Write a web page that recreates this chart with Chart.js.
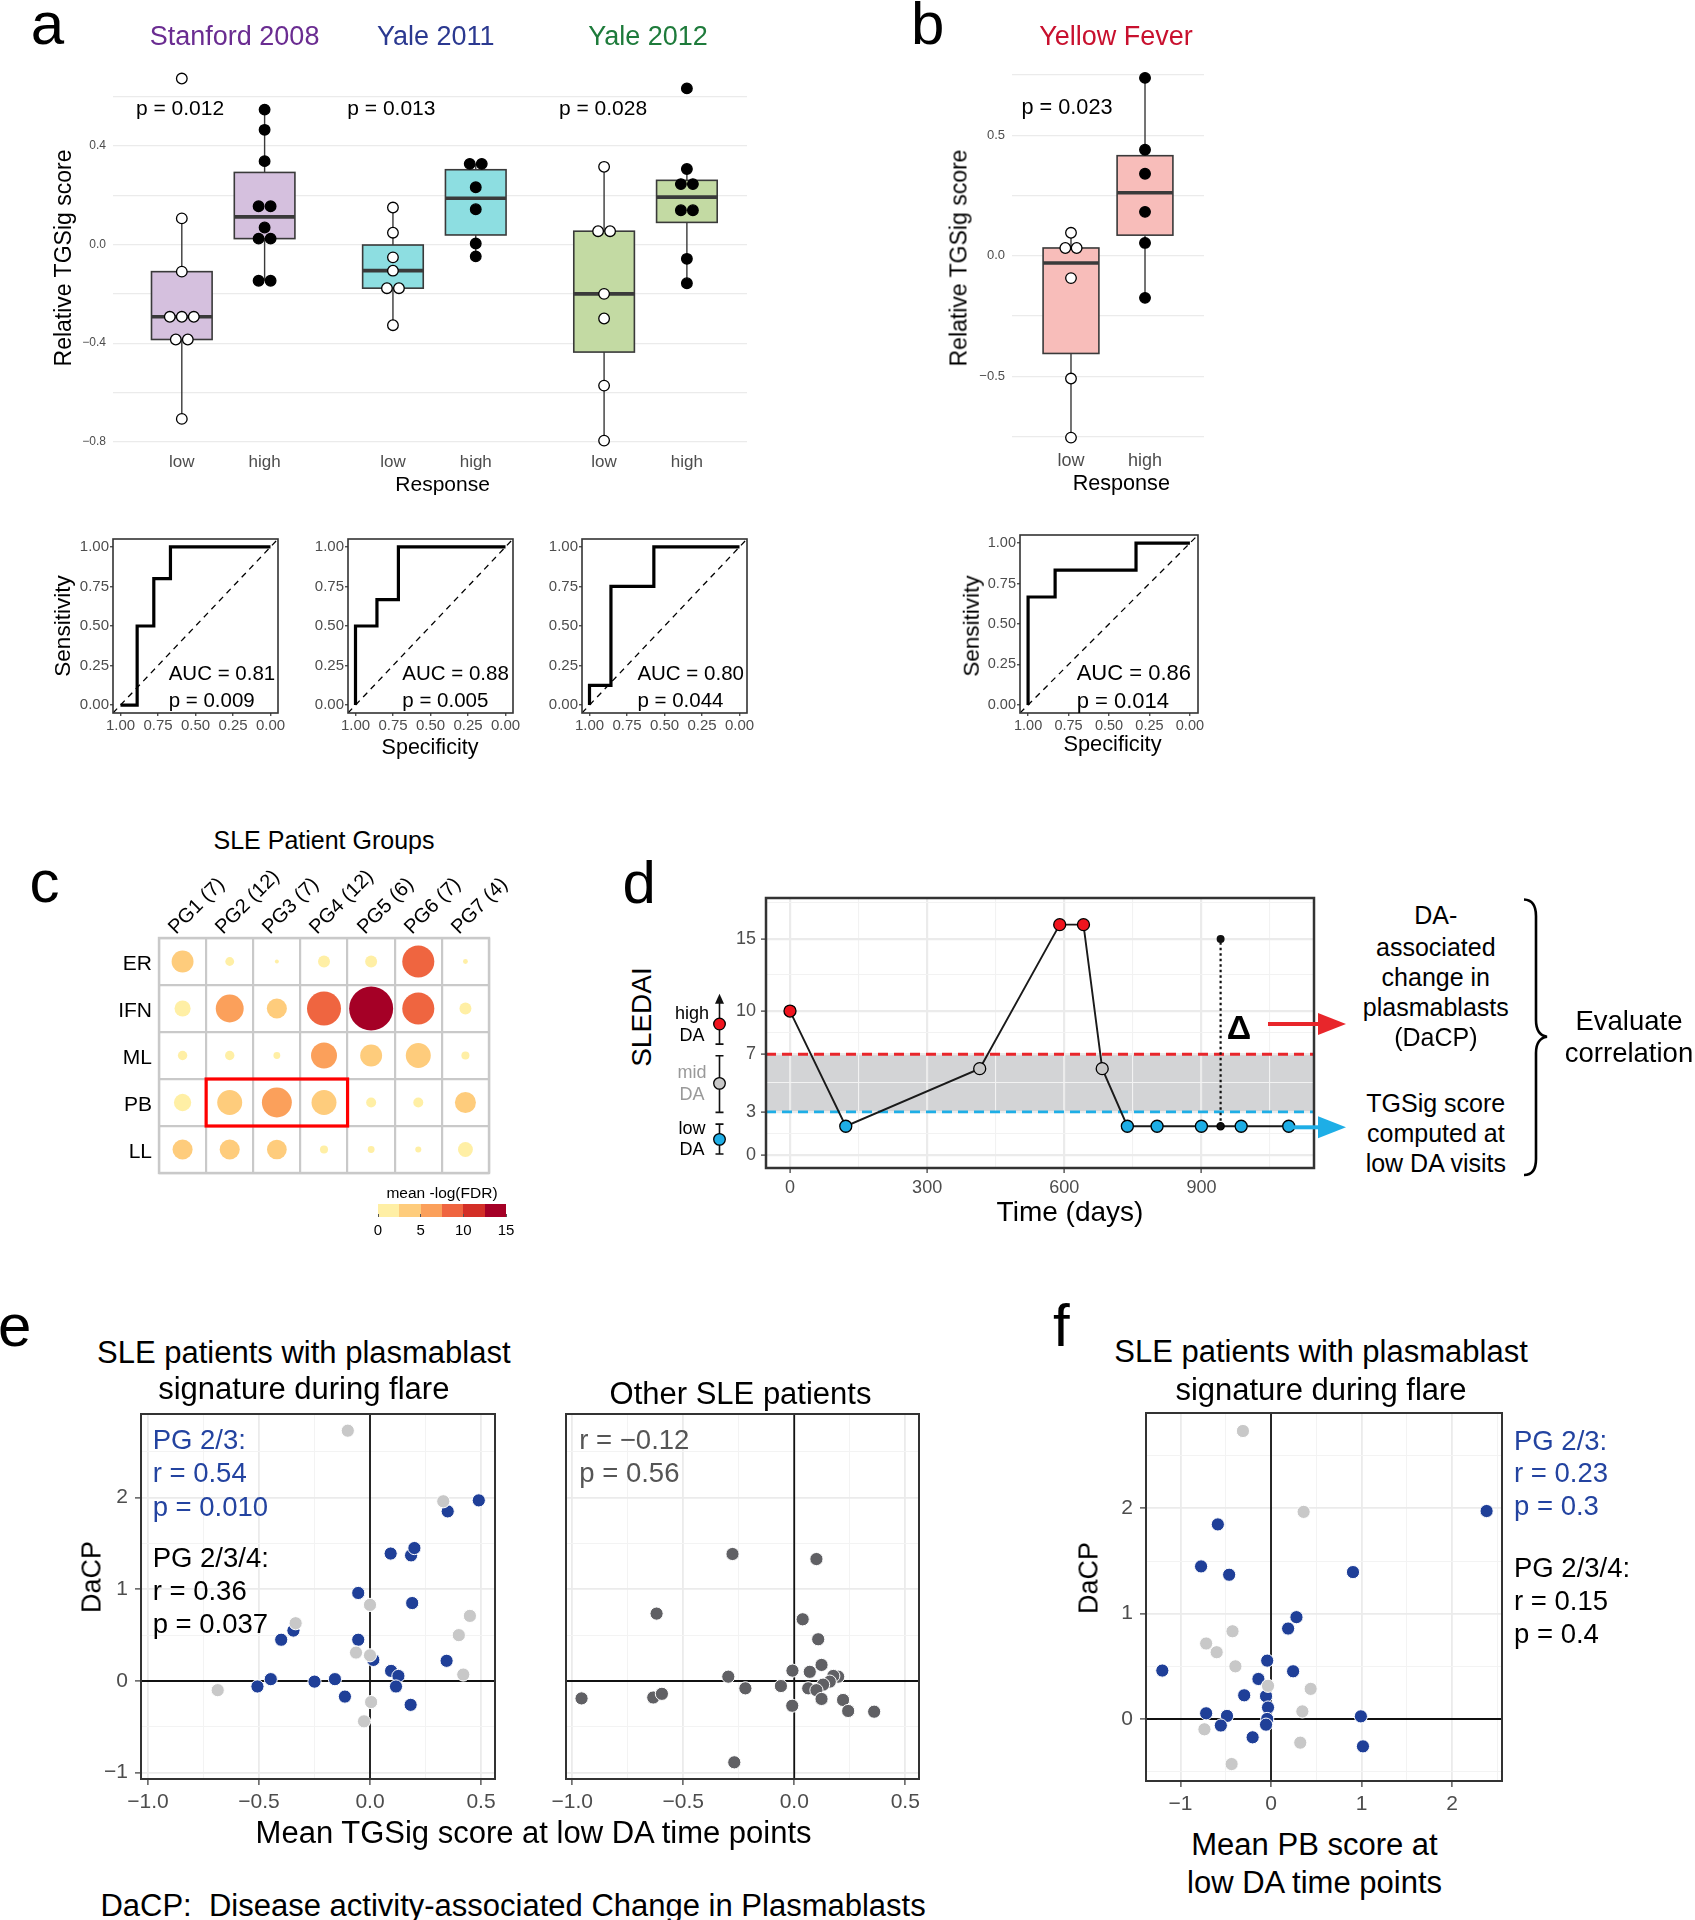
<!DOCTYPE html>
<html>
<head>
<meta charset="utf-8">
<title>TGSig figure</title>
<script src="https://cdn.jsdelivr.net/npm/chart.js@4.4.1/dist/chart.umd.min.js"></script>
<style>
  html, body { margin: 0; padding: 0; background: #fff; }
  body { position: relative; width: 1695px; height: 1920px; overflow: hidden;
         font-family: 'Liberation Sans', Arial, sans-serif; }
  canvas { position: absolute; }
  .t { position: absolute; white-space: pre; line-height: 1; }
  svg { position: absolute; left: 0; top: 0; }
</style>
</head>
<body>
<script>
// ---------- data ----------

// a: relative TGSig score by cohort and response
const responses = ['low', 'high'];
const stanfordLow  = [0.673, 0.106, -0.11, -0.293, -0.293, -0.293, -0.385, -0.385, -0.707];
const stanfordHigh = [0.547, 0.465, 0.338, 0.155, 0.155, 0.069, 0.024, 0.024, -0.147, -0.147];
const yale2011Low  = [0.15, 0.048, -0.052, -0.106, -0.177, -0.177, -0.327];
const yale2011High = [0.327, 0.327, 0.232, 0.143, 0.004, -0.048];
const yale2012Low  = [0.315, 0.054, 0.054, -0.2, -0.3, -0.572, -0.795];
const yale2012High = [0.633, 0.306, 0.245, 0.245, 0.139, 0.139, -0.058, -0.157];
const scoreTicksA = [-0.8, -0.4, 0, 0.4];
const scoreMinorA = [-0.6, -0.2, 0.2, 0.6];

// b: yellow fever
const yfLow  = [0.095, 0.032, 0.032, -0.093, -0.51, -0.755];
const yfHigh = [0.738, 0.44, 0.34, 0.182, 0.053, -0.175];
const scoreTicksB = [-0.5, 0, 0.5];
const scoreMinorB = [-0.75, -0.25, 0.25, 0.75];

// ROC curves: specificity / sensitivity vertices
const rocStanfordSpec = [1, 0.889, 0.889, 0.778, 0.778, 0.667, 0.667, 0];
const rocStanfordSens = [0, 0, 0.5, 0.5, 0.8, 0.8, 1, 1];
const rocYale11Spec = [1, 1, 0.857, 0.857, 0.714, 0.714, 0];
const rocYale11Sens = [0, 0.5, 0.5, 0.667, 0.667, 1, 1];
const rocYale12Spec = [1, 1, 0.857, 0.857, 0.571, 0.571, 0];
const rocYale12Sens = [0, 0.125, 0.125, 0.75, 0.75, 1, 1];
const rocYFSpec = [1, 1, 0.833, 0.833, 0.333, 0.333, 0];
const rocYFSens = [0, 0.667, 0.667, 0.833, 0.833, 1, 1];
const rocTicks = [0, 0.25, 0.5, 0.75, 1];

// c: mean -log(FDR) per module and patient group
const patientGroups = ['PG1 (7)', 'PG2 (12)', 'PG3 (7)', 'PG4 (12)', 'PG5 (6)', 'PG6 (7)', 'PG7 (4)'];
const modules = ['ER', 'IFN', 'ML', 'PB', 'LL'];
const fdrER  = [3.7, 0.6, 0.12, 1.1, 1.1, 7.9, 0.18];
const fdrIFN = [2.0, 6.0, 3.1, 8.9, 14.9, 7.9, 1.1];
const fdrML  = [0.68, 0.68, 0.36, 5.2, 3.7, 4.8, 0.5];
const fdrPB  = [2.3, 4.8, 6.9, 4.8, 0.77, 0.77, 3.4];
const fdrLL  = [3.1, 3.1, 3.0, 0.5, 0.36, 0.28, 1.7];
const fdrLegendTicks = [0, 5, 10, 15];
const fdrColors = ['#FFEFA5', '#FECC7C', '#FBA05B', '#EF6540', '#D32F27', '#A50026'];

// d: SLEDAI over time for one patient
const visitDays   = [0, 122, 415, 590, 642, 683, 738, 803, 900, 942, 987, 1091];
const visitSledai = [10, 2, 6, 16, 16, 6, 2, 2, 2, 2, 2, 2];
const visitLevel  = ['high', 'low', 'mid', 'high', 'high', 'mid', 'low', 'low', 'low', 'ref', 'low', 'low'];
const flareDay = 942, flareSledai = 15;
const daCuts = [3, 7];
const sledaiTicks = [0, 3, 7, 10, 15];
const dayTicks = [0, 300, 600, 900];

// e: DaCP vs mean TGSig score
const eBlueX = [0.49, 0.35, 0.093, 0.185, 0.2, -0.053, 0.19, -0.345, -0.4, -0.053, 0.015, 0.345, 0.095, 0.128, -0.447, -0.25, -0.158, -0.507, 0.117, -0.113, 0.183];
const eBlueY = [1.97, 1.85, 1.39, 1.37, 1.45, 0.96, 0.85, 0.55, 0.45, 0.45, 0.23, 0.22, 0.11, 0.055, 0.02, -0.007, 0.02, -0.06, -0.06, -0.17, -0.26];
const eGrayX = [-0.1, 0.33, 0.0, 0.45, -0.335, 0.4, -0.063, 0.0, 0.42, -0.686, 0.005, -0.027];
const eGrayY = [2.73, 1.96, 0.83, 0.71, 0.63, 0.5, 0.31, 0.28, 0.07, -0.1, -0.23, -0.44];
const otherX = [-0.278, 0.1, -0.62, 0.038, 0.108, 0.123, -0.008, 0.07, -0.297, 0.198, 0.176, 0.16, 0.13, -0.06, -0.22, 0.063, 0.1, -0.958, -0.635, -0.596, 0.123, 0.22, -0.009, 0.243, 0.36, -0.27];
const otherY = [1.385, 1.33, 0.735, 0.673, 0.455, 0.175, 0.113, 0.1, 0.047, 0.047, 0.055, -0.007, -0.04, -0.055, -0.08, -0.08, -0.1, -0.19, -0.18, -0.14, -0.196, -0.207, -0.27, -0.327, -0.335, -0.887];

// f: DaCP vs mean PB score
const fBlueX = [2.38, -0.587, -0.772, -0.462, 0.905, 0.281, 0.189, -0.042, -1.2, 0.244, -0.139, -0.296, -0.055, -0.033, -0.716, -0.486, 0.992, -0.042, -0.554, -0.055, -0.203, 1.015];
const fBlueY = [1.975, 1.848, 1.449, 1.37, 1.395, 0.967, 0.859, 0.554, 0.46, 0.453, 0.38, 0.225, 0.217, 0.109, 0.054, 0.029, 0.025, 0.0, -0.062, -0.054, -0.174, -0.26];
const fGrayX = [-0.31, 0.36, -0.425, -0.716, -0.6, -0.393, -0.033, 0.438, 0.346, -0.735, 0.323, -0.435];
const fGrayY = [2.735, 1.967, 0.833, 0.717, 0.634, 0.5, 0.315, 0.286, 0.072, -0.098, -0.225, -0.428];

// ---------- helpers ----------
Chart.defaults.font.family = "'Liberation Sans', Arial, sans-serif";
Chart.defaults.color = '#4D4D4D';
Chart.defaults.plugins.legend.display = false;
Chart.defaults.plugins.tooltip.enabled = false;

const MINUS = '\u2212';
const fmt1 = v => (v < 0 ? MINUS : '') + Math.abs(v).toFixed(1);
const fmt0 = v => (v < 0 ? MINUS : '') + Math.abs(v);
const pts = (xs, ys) => xs.map((x, i) => ({ x, y: ys[i] }));

function label(str, x, y, o = {}) {
  const d = document.createElement('div');
  d.className = 't';
  d.textContent = str;
  d.style.fontSize = (o.size || 20) + 'px';
  d.style.color = o.color || '#000';
  if (o.bold) d.style.fontWeight = 'bold';
  d.style.left = x + 'px';
  d.style.top = y + 'px';
  const ax = o.anchor === 'left' ? '0' : o.anchor === 'right' ? '-100%' : '-50%';
  d.style.transform = 'translate(' + ax + ',-50%)' + (o.rot ? ' rotate(' + o.rot + 'deg)' : '');
  document.body.appendChild(d);
  return d;
}

// plot area `area` = [x0, y0, x1, y1] in page pixels, margins m = [left, top, right, bottom]
function makeChart(area, m, config) {
  const c = document.createElement('canvas');
  const w = area[2] - area[0] + m[0] + m[2];
  const h = area[3] - area[1] + m[1] + m[3];
  c.width = w; c.height = h;
  c.style.left = (area[0] - m[0]) + 'px';
  c.style.top = (area[1] - m[1]) + 'px';
  c.style.width = w + 'px'; c.style.height = h + 'px';
  document.body.appendChild(c);
  config.options = Object.assign({
    responsive: false, animation: false, events: [],
    layout: { padding: { left: 0, top: m[1], right: m[2], bottom: 0 } }
  }, config.options);
  config.options.scales.x.afterFit = s => { s.height = m[3]; };
  config.options.scales.y.afterFit = s => { s.width = m[0]; };
  return new Chart(c, config);
}

function axis(o) {
  const major = o.major || [], minor = o.minor || [];
  const isMajor = c => c.tick && major.includes(c.tick.value);
  const none = 'rgba(0,0,0,0)';
  return {
    type: 'linear', min: o.min, max: o.max, reverse: !!o.reverse,
    afterBuildTicks: s => { s.ticks = major.concat(minor).map(v => ({ value: v })); },
    ticks: {
      display: o.labels !== false, autoSkip: false, maxRotation: 0, minRotation: 0,
      padding: o.pad ?? 4, color: '#4D4D4D', font: { size: o.font || 14 },
      callback: v => major.includes(v) ? (o.fmt ? o.fmt(v) : String(v)) : ''
    },
    grid: {
      display: true,
      drawOnChartArea: !!(o.grid || o.minorGrid),
      color: c => isMajor(c) ? (o.grid || none) : (o.minorGrid || none),
      lineWidth: c => isMajor(c) ? (o.gw || 1.5) : (o.mgw || o.gw || 1.5),
      drawTicks: !!o.tick, tickLength: o.tick || 0,
      tickColor: c => isMajor(c) ? '#333' : none,
      tickWidth: 1.2
    },
    border: { display: false }
  };
}

const framePlugin = {
  id: 'frame',
  afterDatasetsDraw(chart, args, o) {
    const { ctx, chartArea: a } = chart;
    ctx.save();
    ctx.strokeStyle = o.color; ctx.lineWidth = o.width;
    ctx.strokeRect(a.left, a.top, a.right - a.left, a.bottom - a.top);
    ctx.restore();
  }
};

function quantile(s, p) {
  const h = (s.length - 1) * p, lo = Math.floor(h);
  const next = lo + 1 < s.length ? s[lo + 1] : s[lo];
  return s[lo] + (h - lo) * (next - s[lo]);
}
function boxStats(vals) {
  const s = [...vals].sort((a, b) => a - b);
  const q1 = quantile(s, 0.25), med = quantile(s, 0.5), q3 = quantile(s, 0.75), iqr = q3 - q1;
  const lo = s.find(v => v >= q1 - 1.5 * iqr);
  const hi = [...s].reverse().find(v => v <= q3 + 1.5 * iqr);
  return { q1, med, q3, lo, hi };
}

const boxPlugin = {
  id: 'boxes',
  beforeDatasetsDraw(chart, args, o) {
    const { ctx, scales: { x, y } } = chart;
    o.items.forEach(b => {
      const s = boxStats(b.values);
      const xc = x.getPixelForValue(b.pos);
      const xl = x.getPixelForValue(b.pos - o.half), xr = x.getPixelForValue(b.pos + o.half);
      const yq3 = y.getPixelForValue(s.q3), yq1 = y.getPixelForValue(s.q1);
      ctx.save();
      ctx.strokeStyle = '#3a3a3a'; ctx.lineWidth = 1.4;
      ctx.beginPath();
      ctx.moveTo(xc, y.getPixelForValue(s.lo)); ctx.lineTo(xc, yq1);
      ctx.moveTo(xc, yq3); ctx.lineTo(xc, y.getPixelForValue(s.hi));
      ctx.stroke();
      ctx.fillStyle = b.fill;
      ctx.fillRect(xl, yq3, xr - xl, yq1 - yq3);
      ctx.lineWidth = 1.6;
      ctx.strokeRect(xl, yq3, xr - xl, yq1 - yq3);
      ctx.lineWidth = 3.6;
      ctx.beginPath();
      const ym = y.getPixelForValue(s.med);
      ctx.moveTo(xl, ym); ctx.lineTo(xr, ym);
      ctx.stroke();
      ctx.restore();
    });
  }
};

// spread tied values side by side, like a centred dot plot
function dodge(values, pos, step) {
  const groups = {};
  values.forEach(v => { const k = v.toFixed(3); (groups[k] = groups[k] || []).push(v); });
  const out = [];
  Object.values(groups).forEach(g => g.forEach((v, i) => out.push({ x: pos + (i - (g.length - 1) / 2) * step, y: v })));
  return out;
}

function dotSet(data, high) {
  return {
    data, pointRadius: 5.3, pointBorderWidth: 1.3, pointBorderColor: '#000',
    pointBackgroundColor: high ? '#000' : '#fff', clip: false
  };
}

// ---------- panel a ----------
const groupOffset = [0, 2.55, 5.1];
const cohortSeries = [[stanfordLow, stanfordHigh], [yale2011Low, yale2011High], [yale2012Low, yale2012High]];
const cohortFills = ['#D5C0DE', '#8DDEE1', '#C3DAA3'];
const catPos = [], catLab = [], boxesA = [], dotsA = [];
cohortSeries.forEach((pair, g) => pair.forEach((vals, r) => {
  const pos = groupOffset[g] + r;
  catPos.push(pos); catLab.push(responses[r]);
  boxesA.push({ pos, values: vals, fill: cohortFills[g] });
  dotsA.push(dotSet(dodge(vals, pos, 0.145), r === 1));
}));

makeChart([113, 62, 747, 449], [50, 30, 20, 36], {
  type: 'scatter',
  data: { datasets: dotsA },
  options: {
    scales: {
      x: axis({ min: -0.831, max: 6.826, major: catPos, fmt: v => catLab[catPos.indexOf(v)], font: 17, pad: 3 }),
      y: axis({ min: -0.829, max: 0.74, major: scoreTicksA, minor: scoreMinorA, grid: '#EBEBEB', minorGrid: '#EBEBEB', gw: 1.3, font: 12, pad: 7, fmt: fmt1 })
    },
    plugins: { boxes: { items: boxesA, half: 0.366 } }
  },
  plugins: [boxPlugin]
});

// ---------- panel b ----------
makeChart([1012, 68, 1204, 447], [50, 30, 20, 36], {
  type: 'scatter',
  data: { datasets: [dotSet(dodge(yfLow, 0, 0.153), false), dotSet(dodge(yfHigh, 1, 0.153), true)] },
  options: {
    scales: {
      x: axis({ min: -0.797, max: 1.797, major: [0, 1], fmt: v => responses[v], font: 18, pad: 3 }),
      y: axis({ min: -0.794, max: 0.779, major: scoreTicksB, minor: scoreMinorB, grid: '#EBEBEB', minorGrid: '#EBEBEB', gw: 1.3, font: 13, pad: 7, fmt: fmt1 })
    },
    plugins: { boxes: { items: [{ pos: 0, values: yfLow, fill: '#F8BDBA' }, { pos: 1, values: yfHigh, fill: '#F8BDBA' }], half: 0.377 } }
  },
  plugins: [boxPlugin]
});

// ---------- ROC curves ----------
function rocChart(area, spec, sens, font) {
  makeChart(area, [46, 20, 24, 32], {
    type: 'scatter',
    data: {
      datasets: [
        { data: pts(spec, sens), showLine: true, borderColor: '#000', borderWidth: 3.2, pointRadius: 0, borderJoinStyle: 'miter', clip: false },
        { data: [{ x: 1.05, y: -0.05 }, { x: -0.05, y: 1.05 }], showLine: true, borderColor: '#000', borderWidth: 1.3, borderDash: [6, 5], pointRadius: 0 }
      ]
    },
    options: {
      scales: {
        x: axis({ min: -0.05, max: 1.05, reverse: true, major: rocTicks, fmt: v => v.toFixed(2), font, tick: 3, pad: 1 }),
        y: axis({ min: -0.05, max: 1.05, major: rocTicks, fmt: v => v.toFixed(2), font, tick: 3, pad: 1 })
      },
      plugins: { frame: { color: '#333', width: 1.6 } }
    },
    plugins: [framePlugin]
  });
}
rocChart([113, 539, 278, 713], rocStanfordSpec, rocStanfordSens, 15);
rocChart([348, 539, 513, 713], rocYale11Spec, rocYale11Sens, 15);
rocChart([582, 539, 747, 713], rocYale12Spec, rocYale12Sens, 15);
rocChart([1020, 535, 1198, 713], rocYFSpec, rocYFSens, 14.5);

// ---------- panel c ----------
const fdrRows = [fdrER, fdrIFN, fdrML, fdrPB, fdrLL];
const bubbles = [], bubbleColors = [];
fdrRows.forEach((row, r) => row.forEach((v, c) => {
  bubbles.push({ x: c + 0.5, y: r + 0.5, r: 5.7 * Math.sqrt(v) });
  bubbleColors.push(fdrColors[Math.min(fdrColors.length - 1, Math.floor(v / 2.5))]);
}));

const cellBoxPlugin = {
  id: 'cellBox',
  afterDatasetsDraw(chart, args, o) {
    const { ctx, scales: { x, y } } = chart;
    const x0 = x.getPixelForValue(o.x0), x1 = x.getPixelForValue(o.x1);
    const y0 = y.getPixelForValue(o.y0), y1 = y.getPixelForValue(o.y1);
    ctx.save(); ctx.strokeStyle = '#FF0000'; ctx.lineWidth = 3.2;
    ctx.strokeRect(x0, y0, x1 - x0, y1 - y0);
    ctx.restore();
  }
};

// margins wider than the largest bubble so Chart.js does not shrink the grid
makeChart([159, 938, 489, 1173], [26, 26, 26, 26], {
  type: 'bubble',
  data: { datasets: [{ data: bubbles, backgroundColor: bubbleColors, borderWidth: 0, clip: false }] },
  options: {
    scales: {
      x: axis({ min: 0, max: 7, minor: [0, 1, 2, 3, 4, 5, 6, 7], minorGrid: '#C9C9C9', gw: 2.2, labels: false }),
      y: axis({ min: 0, max: 5, reverse: true, minor: [0, 1, 2, 3, 4, 5], minorGrid: '#C9C9C9', gw: 2.2, labels: false })
    },
    plugins: {
      frame: { color: '#C9C9C9', width: 2.4 },
      cellBox: { x0: 1, x1: 4, y0: modules.indexOf('PB'), y1: modules.indexOf('PB') + 1 }
    }
  },
  plugins: [framePlugin, cellBoxPlugin]
});

// ---------- panel d ----------
const levelColor = { high: '#F0141E', mid: '#C8C8C8', low: '#1EAEE6', ref: '#111' };
const dMin = -52.5, dMax = 1146.3;

const bandPlugin = {
  id: 'band',
  beforeDraw(chart, args, o) {
    const { ctx, chartArea: a, scales: { y } } = chart;
    const top = y.getPixelForValue(o.to), bot = y.getPixelForValue(o.from);
    ctx.save(); ctx.fillStyle = o.color;
    ctx.fillRect(a.left, top, a.right - a.left, bot - top);
    ctx.restore();
  }
};

const daKeyPlugin = {
  id: 'daKey',
  afterDraw(chart, args, o) {
    const { ctx, chartArea: a, scales: { y } } = chart;
    const x = a.left - o.offset;
    o.items.forEach(k => {
      const yt = y.getPixelForValue(k.hi), yb = y.getPixelForValue(k.lo);
      ctx.save();
      ctx.strokeStyle = '#111'; ctx.lineWidth = 1.6;
      ctx.beginPath();
      ctx.moveTo(x, k.arrow ? yt + 6 : yt); ctx.lineTo(x, yb);
      ctx.moveTo(x - 4, yb); ctx.lineTo(x + 4, yb);
      if (!k.arrow) { ctx.moveTo(x - 4, yt); ctx.lineTo(x + 4, yt); }
      ctx.stroke();
      if (k.arrow) {
        ctx.fillStyle = '#111';
        ctx.beginPath(); ctx.moveTo(x, yt); ctx.lineTo(x - 4.5, yt + 10); ctx.lineTo(x + 4.5, yt + 10); ctx.closePath(); ctx.fill();
      }
      ctx.fillStyle = k.color; ctx.lineWidth = 1.3; ctx.strokeStyle = '#000';
      ctx.beginPath(); ctx.arc(x, y.getPixelForValue(k.mid), 5.8, 0, Math.PI * 2); ctx.fill(); ctx.stroke();
      ctx.restore();
    });
  }
};

makeChart([766, 898, 1314, 1168], [66, 24, 20, 40], {
  type: 'scatter',
  data: {
    datasets: [
      { data: pts(visitDays, visitSledai), showLine: true, borderColor: '#1a1a1a', borderWidth: 1.9,
        pointBackgroundColor: visitLevel.map(l => levelColor[l]), pointBorderColor: '#000', pointBorderWidth: 1.3,
        pointRadius: visitLevel.map(l => l === 'ref' ? 3.6 : 6), clip: false },
      { data: [{ x: flareDay, y: visitSledai[visitDays.indexOf(flareDay)] }, { x: flareDay, y: flareSledai }], showLine: true,
        borderColor: '#111', borderWidth: 2.2, borderDash: [2.5, 3], pointRadius: [0, 4], pointBackgroundColor: '#111', pointBorderWidth: 0, clip: false },
      { data: [{ x: dMin, y: daCuts[1] }, { x: dMax, y: daCuts[1] }], showLine: true, borderColor: '#E8262B', borderWidth: 2.8, borderDash: [10, 6], pointRadius: 0 },
      { data: [{ x: dMin, y: daCuts[0] }, { x: dMax, y: daCuts[0] }], showLine: true, borderColor: '#1EAEE6', borderWidth: 2.8, borderDash: [10, 6], pointRadius: 0 }
    ]
  },
  options: {
    scales: {
      x: axis({ min: dMin, max: dMax, major: dayTicks, minor: [150, 450, 750, 1050], grid: '#EBEBEB', minorGrid: '#F2F2F2', gw: 2.2, mgw: 1.1, font: 18, tick: 5, pad: 4 }),
      y: axis({ min: -0.9, max: 17.85, major: sledaiTicks, minor: [1.5, 5, 8.5, 12.5, 17.5], grid: '#EBEBEB', minorGrid: '#F2F2F2', gw: 2.2, mgw: 1.1, font: 18, tick: 5, pad: 5 })
    },
    plugins: {
      band: { from: daCuts[0], to: daCuts[1], color: '#D3D4D6' },
      frame: { color: '#333', width: 2.5 },
      daKey: { offset: 46.5, items: [
        { lo: 7.7, hi: 11.2, mid: 9.1, color: levelColor.high, arrow: true },
        { lo: 2.96, hi: 6.9, mid: 4.98, color: levelColor.mid },
        { lo: 0.07, hi: 2.15, mid: 1.09, color: levelColor.low }
      ] }
    }
  },
  plugins: [bandPlugin, framePlugin, daKeyPlugin]
});

// ---------- panels e and f ----------
function dacpPanel(area, m, xa, ya, sets) {
  const zero = [
    { data: [{ x: xa.min, y: 0 }, { x: xa.max, y: 0 }], showLine: true, borderColor: '#111', borderWidth: 1.8, pointRadius: 0 },
    { data: [{ x: 0, y: ya.min }, { x: 0, y: ya.max }], showLine: true, borderColor: '#111', borderWidth: 1.8, pointRadius: 0 }
  ];
  makeChart(area, m, {
    type: 'scatter',
    data: {
      datasets: sets.map(s => ({ data: s.data, pointRadius: 6.6, pointBorderWidth: 1, pointBorderColor: '#fff', pointBackgroundColor: s.color, clip: false })).concat(zero)
    },
    options: {
      scales: { x: axis(xa), y: axis(ya) },
      plugins: { frame: { color: '#333', width: 2 } }
    },
    plugins: [framePlugin]
  });
}
const gridE = { grid: '#EBEBEB', minorGrid: '#F3F3F3', gw: 1.8, mgw: 1 };
const eX = (min, max) => Object.assign({ min, max, major: [-1, -0.5, 0, 0.5], minor: [-0.75, -0.25, 0.25], font: 21, tick: 6, pad: 5, fmt: fmt1 }, gridE);
const eY = Object.assign({ min: -1.069, max: 2.912, major: [-1, 0, 1, 2], minor: [-0.5, 0.5, 1.5, 2.5], font: 21, tick: 6, pad: 7, fmt: fmt0 }, gridE);

dacpPanel([141, 1414, 495, 1779], [50, 30, 24, 40], eX(-1.0315, 0.563), eY,
  [{ data: pts(eGrayX, eGrayY), color: '#C8C8C8' }, { data: pts(eBlueX, eBlueY), color: '#1F3F98' }]);
dacpPanel([566, 1414, 919, 1779], [40, 30, 24, 40], eX(-1.028, 0.562),
  Object.assign({}, eY, { labels: false, tick: 0 }),
  [{ data: pts(otherX, otherY), color: '#606064' }]);
dacpPanel([1146, 1413, 1502, 1781], [50, 30, 24, 40],
  Object.assign({ min: -1.38, max: 2.55, major: [-1, 0, 1, 2], minor: [-0.5, 0.5, 1.5, 2.5], font: 21, tick: 6, pad: 5, fmt: fmt0 }, gridE),
  Object.assign({ min: -0.589, max: 2.906, major: [0, 1, 2], minor: [-0.5, 0.5, 1.5, 2.5], font: 21, tick: 6, pad: 7, fmt: fmt0 }, gridE),
  [{ data: pts(fGrayX, fGrayY), color: '#C8C8C8' }, { data: pts(fBlueX, fBlueY), color: '#1F3F98' }]);

// ---------- text ----------
const L = 60;
label('a', 30.8, 45 - 0.3465 * L, { size: L, anchor: 'left' });
label('b', 911, 45 - 0.3465 * L, { size: L, anchor: 'left' });
label('c', 29.6, 903 - 0.3465 * L, { size: L, anchor: 'left' });
label('d', 622.5, 903.3 - 0.3465 * L, { size: L, anchor: 'left' });
label('e', -2, 1347 - 0.3465 * L, { size: L, anchor: 'left' });
label('f', 1053, 1347 - 0.3465 * L, { size: L, anchor: 'left' });

label('Stanford 2008', 234.6, 35.7, { size: 27, color: '#6A2C91' });
label('Yale 2011', 435.8, 35.7, { size: 27, color: '#2B3990' });
label('Yale 2012', 648, 35.7, { size: 27, color: '#1E7B3B' });
label('p = 0.012', 180, 107.3, { size: 21 });
label('p = 0.013', 391.4, 107.3, { size: 21 });
label('p = 0.028', 603, 107.3, { size: 21 });
label('Relative TGSig score', 63, 258.3, { size: 23, rot: -90 });
label('Response', 442.6, 483.3, { size: 21 });

label('Yellow Fever', 1116, 35.7, { size: 27, color: '#C8102E' });
label('p = 0.023', 1067, 107.3, { size: 21.7 });
label('Relative TGSig score', 959.3, 258.3, { size: 23, rot: -90 });
label('Response', 1121.3, 483.3, { size: 21.6 });

label('Sensitivity', 63, 626, { size: 22.5, rot: -90 });
label('Specificity', 430, 747.7, { size: 21.5 });
label('Sensitivity', 971.7, 626, { size: 22.5, rot: -90 });
label('Specificity', 1112.5, 744, { size: 21.8 });
[[168.7, 'AUC = 0.81', 'p = 0.009'], [402.3, 'AUC = 0.88', 'p = 0.005'], [637.4, 'AUC = 0.80', 'p = 0.044']].forEach(r => {
  label(r[1], r[0], 672.7, { size: 20.5, anchor: 'left' });
  label(r[2], r[0], 700, { size: 20.5, anchor: 'left' });
});
label('AUC = 0.86', 1076.7, 673.3, { size: 22, anchor: 'left' });
label('p = 0.014', 1076.7, 700.7, { size: 22, anchor: 'left' });

// c labels
label('SLE Patient Groups', 324, 840, { size: 25 });
modules.forEach((mName, i) => label(mName, 152, 938 + 47 * (i + 0.5), { size: 21, anchor: 'right' }));
patientGroups.forEach((g, i) => {
  const d = document.createElement('div');
  d.className = 't';
  d.textContent = g;
  const cx = 159 + (489 - 159) / 7 * (i + 0.5);
  Object.assign(d.style, { fontSize: '20px', lineHeight: '20px', left: (cx - 4.6) + 'px', top: (937.2 - 20) + 'px',
    transformOrigin: '0 100%', transform: 'rotate(-45deg)' });
  document.body.appendChild(d);
});
label('mean -log(FDR)', 442, 1193.3, { size: 15.5 });
const barX0 = 378, barX1 = 506, barY0 = 1204, barY1 = 1216.5;
fdrColors.forEach((col, i) => {
  const d = document.createElement('div');
  const w = (barX1 - barX0) / fdrColors.length;
  Object.assign(d.style, { position: 'absolute', left: (barX0 + i * w) + 'px', top: barY0 + 'px', width: w + 'px', height: (barY1 - barY0) + 'px', background: col });
  document.body.appendChild(d);
});
fdrLegendTicks.forEach(v => {
  const x = barX0 + v / 15 * (barX1 - barX0);
  const t = document.createElement('div');
  Object.assign(t.style, { position: 'absolute', left: (x - 0.5) + 'px', top: (barY1 - 3) + 'px', width: '1px', height: '3px', background: '#555' });
  document.body.appendChild(t);
  label(String(v), x, 1228.5, { size: 15 });
});

// d labels
label('SLEDAI', 642, 1016.7, { size: 28, rot: -90 });
label('high', 692, 1013.3, { size: 18 });
label('DA', 692, 1035, { size: 18 });
label('mid', 692, 1071.7, { size: 18, color: '#999' });
label('DA', 692, 1094, { size: 18, color: '#999' });
label('low', 692, 1127.7, { size: 18 });
label('DA', 692, 1149.3, { size: 18 });
label('Time (days)', 1070, 1211.7, { size: 28 });
label('\u0394', 1239, 1026.7, { size: 34, bold: true });
['DA-', 'associated', 'change in', 'plasmablasts', '(DaCP)'].forEach((s, i) => label(s, 1435.8, [915, 946.7, 976.7, 1006.7, 1036.7][i], { size: 25 }));
['TGSig score', 'computed at', 'low DA visits'].forEach((s, i) => label(s, 1435.8, [1103.3, 1133.3, 1162.7][i], { size: 25 }));
label('Evaluate', 1629, 1020.7, { size: 27.5 });
label('correlation', 1629, 1053.3, { size: 27.5 });

// e labels
label('SLE patients with plasmablast', 303.8, 1351.7, { size: 31 });
label('signature during flare', 303.8, 1388.3, { size: 31 });
label('Other SLE patients', 740.5, 1393.3, { size: 31 });
label('DaCP', 91.7, 1576.7, { size: 27, rot: -90 });
const blueText = '#2343A0';
label('PG 2/3:', 152.7, 1440, { size: 27.5, anchor: 'left', color: blueText });
label('r = 0.54', 152.7, 1473.3, { size: 27.5, anchor: 'left', color: blueText });
label('p = 0.010', 152.7, 1506.7, { size: 27.5, anchor: 'left', color: blueText });
label('PG 2/3/4:', 152.7, 1557.7, { size: 27.5, anchor: 'left' });
label('r = 0.36', 152.7, 1591, { size: 27.5, anchor: 'left' });
label('p = 0.037', 152.7, 1624.3, { size: 27.5, anchor: 'left' });
label('r = \u22120.12', 579.3, 1440, { size: 27.5, anchor: 'left', color: '#555' });
label('p = 0.56', 579.3, 1473.3, { size: 27.5, anchor: 'left', color: '#555' });
label('Mean TGSig score at low DA time points', 533.6, 1831.7, { size: 31 });
label('DaCP:  Disease activity-associated Change in Plasmablasts', 100.4, 1905, { size: 31, anchor: 'left' });

// f labels
label('SLE patients with plasmablast', 1321, 1350.6, { size: 31 });
label('signature during flare', 1321, 1388.9, { size: 31 });
label('DaCP', 1089.4, 1578.3, { size: 27, rot: -90 });
label('PG 2/3:', 1514, 1440.5, { size: 27.5, anchor: 'left', color: blueText });
label('r = 0.23', 1514, 1473, { size: 27.5, anchor: 'left', color: blueText });
label('p = 0.3', 1514, 1506.4, { size: 27.5, anchor: 'left', color: blueText });
label('PG 2/3/4:', 1514, 1568, { size: 27.5, anchor: 'left' });
label('r = 0.15', 1514, 1600.5, { size: 27.5, anchor: 'left' });
label('p = 0.4', 1514, 1633.8, { size: 27.5, anchor: 'left' });
label('Mean PB score at', 1314.5, 1844.3, { size: 31 });
label('low DA time points', 1314.5, 1881.8, { size: 31 });

// arrows and brace of panel d
document.body.insertAdjacentHTML('beforeend',
  '<svg width="1695" height="1920" style="pointer-events:none">' +
  '<line x1="1268" y1="1024" x2="1322" y2="1024" stroke="#E8262B" stroke-width="4"/>' +
  '<polygon points="1318,1013 1346,1024 1318,1035" fill="#E8262B"/>' +
  '<line x1="1290" y1="1127.3" x2="1322" y2="1127.3" stroke="#1EAEE6" stroke-width="4"/>' +
  '<polygon points="1318,1116.3 1346,1127.3 1318,1138.3" fill="#1EAEE6"/>' +
  '<path d="M1524,899.5 Q1536,900 1536,916 L1536,1020 Q1536,1035 1547,1036.7 Q1536,1038.5 1536,1053 L1536,1159 Q1536,1175 1524,1175" fill="none" stroke="#000" stroke-width="2.6"/>' +
  '</svg>');
</script>
</body>
</html>
